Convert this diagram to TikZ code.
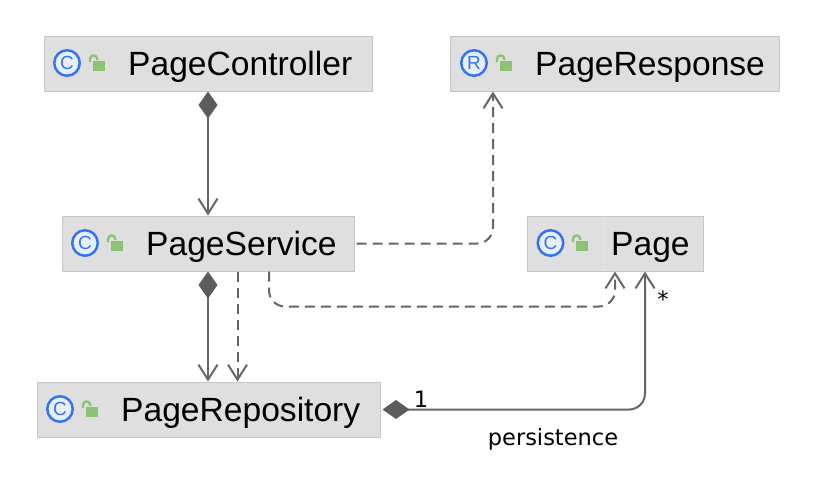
\documentclass[tikz,border=0pt]{standalone}
\usepackage{fontspec}
\setmainfont{Liberation Sans}
\newfontfamily\labelfont{DejaVu Sans}
\usetikzlibrary{arrows.meta,calc}
\definecolor{boxfill}{HTML}{DFDFDF}
\definecolor{boxline}{HTML}{C6C6C6}
\definecolor{iconblue}{HTML}{3574F0}
\definecolor{iconback}{HTML}{E8EFFC}
\definecolor{lockgreen}{HTML}{8CC474}
\definecolor{linkgray}{HTML}{666666}
\definecolor{diamondgray}{HTML}{5C5C5C}
\tikzset{
  classbox/.style={draw=boxline,fill=boxfill,line width=1pt,minimum height=55pt,inner sep=0pt},
  classname/.style={anchor=base west,inner sep=0pt,font=\fontsize{33.6}{34}\selectfont},
  kindicon/.style={circle,draw=iconblue,fill=iconback,line width=2.5pt,minimum size=25.5pt,inner sep=0pt,text=iconblue,font=\fontsize{19}{19}\selectfont},
  lockbody/.style={fill=lockgreen,minimum width=12pt,minimum height=10pt,inner sep=0pt},
  lockbar/.style={draw=lockgreen,line width=2.4pt},
  link/.style={draw=linkgray,line width=2pt,rounded corners=16pt},
  usedash/.style={link,dash pattern=on 10pt off 6pt},
  owner/.style={{Diamond[length=27pt,width=19pt,color=diamondgray,fill=diamondgray]}-{Straight Barb[length=15pt,width=19pt]}},
  open/.style={-{Straight Barb[length=15pt,width=19pt]}},
  linklabel/.style={anchor=base,inner sep=0pt,font=\labelfont\fontsize{22.5}{23}\selectfont}
}
\newcommand{\openlock}[1]{
  \node[lockbody] at (#1) {};
  \draw[lockbar] ($(#1)+(-9,-4)$) -- ++(0,-3) arc (180:360:3.6) -- ++(0,1);
}
\begin{document}
\begin{tikzpicture}[x=1pt,y=-1pt]
\useasboundingbox (0,0) rectangle (816,498);

% class boxes
\node[classbox,minimum width=328pt] (controller) at (208,63.5) {};
\node[classbox,minimum width=329pt] (response) at (614.5,63.5) {};
\node[classbox,minimum width=292pt] (service) at (208,243.5) {};
\node[classbox,minimum width=176pt] (page) at (615,243.5) {};
\node[classbox,minimum width=343pt] (repository) at (208.5,409.5) {};
\draw[white!20!boxfill,line width=0.6pt] ([xshift=-12pt,yshift=-0.5pt]page.north) -- ([xshift=-12pt,yshift=0.5pt]page.south);

% names
\node[classname] (controllername) at (128,75) {PageController};
\node[classname] (responsename) at (535,75) {PageResponse};
\node[classname] (servicename) at (146,255) {PageService};
\node[classname] (pagename) at (611,255) {Page};
\node[classname] (repositoryname) at (121,421) {PageRepository};

% icons
\node[kindicon] (controllericon) at (67,63) {C};
\node[kindicon] (responseicon) at (474,63) {R};
\node[kindicon] (serviceicon) at (85,243) {C};
\node[kindicon] (pageicon) at (550.5,243) {C};
\node[kindicon] (repositoryicon) at (60,409) {C};

\openlock{99,66}
\openlock{506,66}
\openlock{117,246}
\openlock{582,246}
\openlock{92,412}

% links
\draw[link,owner] (controller.south) -- (service.north);
\draw[link,owner] (service.south) -- (service.south |- repository.north);
\draw[usedash,open] ([xshift=29.5pt]service.south) -- ([xshift=29.5pt]service.south |- repository.north);
\draw[usedash,open] ([xshift=2pt]service.east) -- ([xshift=-121.5pt]response.south |- service.east) -- ([xshift=-121.5pt]response.south);
\draw[usedash,open] ([xshift=61pt]service.south) -- ++(0,35) -- ($(page.south)+(0,35)$) -- (page.south);
\draw[link,owner] ([xshift=2pt]repository.east) -- ([xshift=30pt]page.south |- repository.east) -- ([xshift=30pt]page.south);

% labels
\node[linklabel] (one) at (421,407) {1};
\node[linklabel] (many) at (663,307) {*};
\node[linklabel] (persistence) at (553,445) {persistence};
\end{tikzpicture}
\end{document}
